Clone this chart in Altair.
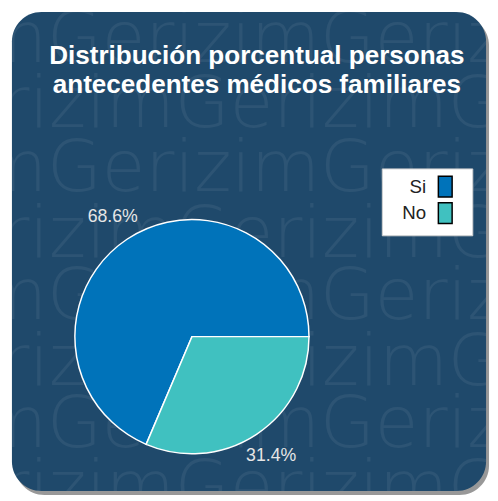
import math
import altair as alt
import pandas as pd

# ---- data ----
categories = ["Si", "No"]
percentages = [68.6, 31.4]
pct_labels = ["68.6%", "31.4%"]
title_lines = ["Distribución porcentual personas", "antecedentes médicos familiares"]
watermark_text = "Gerizim" * 5
colors = ["#0073BA", "#40C1C0"]

df = pd.DataFrame({"categoria": categories, "porcentaje": percentages, "etiqueta": pct_labels})
one = pd.DataFrame({"k": [0]})

# ---- layout ----
W, H = 482, 487
CX, CY = 183, 330
R = 119
PANEL = "#1F496B"

base_one = alt.Chart(one)

shadow = base_one.mark_rect(cornerRadius=30, color="#444444", opacity=0.55).encode(
    x=alt.value(3), x2=alt.value(W + 3), y=alt.value(4), y2=alt.value(H + 4)
)
panel = base_one.mark_rect(cornerRadius=30, color=PANEL).encode(
    x=alt.value(0), x2=alt.value(W), y=alt.value(0), y2=alt.value(H)
)

wm_layers = []
wm_rows = [(51, -242), (117, -112), (182, -242), (249, -112), (312, -242), (379, -112), (442, -242), (507, -112)]
for yy, xx in wm_rows:
    wm_layers.append(
        base_one.mark_text(
            text=watermark_text, font="DejaVu Sans", fontSize=72, fontWeight=200,
            color="white", opacity=0.06, align="left", baseline="alphabetic", clip=True,
        ).encode(x=alt.value(xx), y=alt.value(yy))
    )

title = base_one.mark_text(
    text=title_lines, font="Liberation Sans", fontSize=26.5, fontWeight="bold",
    color="white", align="center", baseline="top", lineHeight=29,
).encode(x=alt.value(249), y=alt.value(32))

base = alt.Chart(df)
theta = alt.Theta("porcentaje:Q", stack=True,
                  scale=alt.Scale(range=[math.pi / 2, math.pi / 2 + 2 * math.pi]))
order = alt.Order("categoria:N", sort="ascending")
color = alt.Color(
    "categoria:N", title=None,
    scale=alt.Scale(domain=categories, range=colors),
    legend=alt.Legend(
        orient="none", legendX=376, legendY=159, fillColor="white", strokeColor="#d0d0d0",
        padding=9, symbolType="M-1,-1.5H1V1.5H-1Z M2.2,0L2.2,0", symbolSize=196,
        symbolStrokeColor="black", symbolStrokeWidth=1.5, symbolOpacity=1,
        symbolOffset=46, labelAlign="right", labelOffset=alt.ExprRef(expr="-29"),
        labelFontSize=19, labelColor="#222222", labelFont="Liberation Sans", rowPadding=0,
    ),
)

pie = base.mark_arc(outerRadius=R, stroke="white", strokeWidth=1.5).encode(
    theta=theta, color=color, order=order, x=alt.value(CX), y=alt.value(CY)
)
labels = base.mark_text(radius=146, fontSize=18, font="Liberation Sans", color="#E6E6E6").encode(
    theta=theta, order=order, text="etiqueta:N", x=alt.value(CX), y=alt.value(CY)
)

chart = alt.layer(shadow, panel, *wm_layers, title, pie, labels).properties(
    width=W, height=H,
    padding={"left": 4, "top": 0, "right": 4, "bottom": 5},
    autosize=alt.AutoSizeParams(type="none"),
    background="white",
).configure_view(strokeWidth=0)

chart.save("out.html", embed_options={"renderer": "svg", "actions": False})
